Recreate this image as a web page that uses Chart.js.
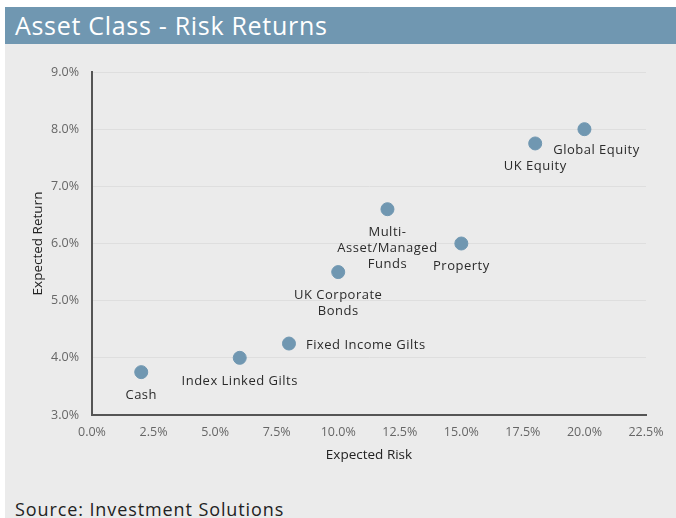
<!DOCTYPE html>
<html>
<head>
<meta charset="utf-8">
<script src="https://cdn.jsdelivr.net/npm/chart.js@4/dist/chart.umd.min.js"></script>
<style>
  html, body { margin: 0; padding: 0; background: #fff; }
  #wrap { position: relative; width: 676px; height: 518px; overflow: hidden; }
  #panel { position: absolute; left: 5px; top: 7px; width: 671px; height: 511px; background: #ebebeb; }
  #title {
    position: absolute; left: 5px; top: 7px; width: 671px; height: 37px;
    background: #7097b1; color: #fff;
    font: 25px "Open Sans", sans-serif; line-height: 37px; text-indent: 10px;
    letter-spacing: 0.7px;
  }
  #source {
    position: absolute; left: 15px; top: 499px;
    font: 18px "Open Sans", sans-serif; line-height: 20px; color: #222;
    letter-spacing: 0.9px;
  }
  #box { position: absolute; left: 0; top: 44px; width: 676px; height: 431px; }
</style>
</head>
<body>
<div id="wrap">
  <div id="panel"></div>
  <div id="title">Asset Class - Risk Returns</div>
  <div id="box"><canvas id="riskChart" width="676" height="431"></canvas></div>
  <div id="source">Source: Investment Solutions</div>
</div>
<script>
// データ（%）
const assetNames = [
  'Cash',
  'Index Linked Gilts',
  'Fixed Income Gilts',
  ['UK Corporate', 'Bonds'],
  ['Multi-', 'Asset/Managed', 'Funds'],
  'Property',
  'UK Equity',
  'Global Equity'
];
const expectedRisk = [2.0, 6.0, 8.0, 10.0, 12.0, 15.0, 18.0, 20.0];
const expectedReturn = [3.75, 4.0, 4.25, 5.5, 6.6, 6.0, 7.75, 8.0];
const xTicks = [0, 2.5, 5, 7.5, 10, 12.5, 15, 17.5, 20, 22.5];
const yTicks = [3, 4, 5, 6, 7, 8, 9];

// ラベルの置き方
const labelPlace = ['below', 'below', 'right', 'below', 'below', 'below', 'below', 'belowRight'];

const points = expectedRisk.map((x, i) => ({ x: x, y: expectedReturn[i] }));

// 点の横に名前を描くプラグイン
const pointLabels = {
  id: 'pointLabels',
  afterDatasetsDraw(chart) {
    const ctx = chart.ctx;
    const meta = chart.getDatasetMeta(0);
    ctx.save();
    ctx.font = '13px "Open Sans", sans-serif';
    ctx.letterSpacing = '0.5px';
    ctx.fillStyle = '#2b2b2b';
    ctx.textBaseline = 'middle';
    meta.data.forEach((pt, i) => {
      const lines = [].concat(assetNames[i]);
      const place = labelPlace[i];
      lines.forEach((line, j) => {
        if (place === 'right') {
          ctx.textAlign = 'left';
          ctx.fillText(line, pt.x + 17, pt.y + 1.5 + j * 16);
        } else if (place === 'belowRight') {
          ctx.textAlign = 'center';
          ctx.fillText(line, pt.x + 12, pt.y + 21 + j * 16);
        } else {
          ctx.textAlign = 'center';
          ctx.fillText(line, pt.x, pt.y + 23 + j * 16);
        }
      });
    });
    ctx.restore();
  }
};

const ctx = document.getElementById('riskChart').getContext('2d');
const riskChart = new Chart(ctx, {
  type: 'scatter',
  data: {
    datasets: [{
      data: points,
      backgroundColor: '#7097b1',
      borderColor: '#7097b1',
      pointRadius: 6.5,
      pointHoverRadius: 6.5
    }]
  },
  options: {
    responsive: false,
    animation: false,
    events: [],
    layout: { padding: { left: 0, right: 30, top: 28, bottom: 0 } },
    plugins: {
      legend: { display: false },
      tooltip: { enabled: false }
    },
    scales: {
      x: {
        type: 'linear',
        min: 0,
        max: 22.5,
        afterBuildTicks: s => { s.ticks = xTicks.map(v => ({ value: v })); },
        afterFit: s => { s.height = 60; },
        ticks: {
          padding: 10,
          color: '#666',
          font: { family: 'Open Sans', size: 12.5 },
          callback: v => v.toFixed(1) + '%'
        },
        grid: { display: false, drawTicks: false },
        border: { display: true, color: '#555', width: 2 },
        title: {
          display: true,
          text: 'Expected Risk',
          color: '#222',
          font: { family: 'Open Sans', size: 13.5 },
          padding: { top: 0, bottom: 12 }
        }
      },
      y: {
        type: 'linear',
        min: 3,
        max: 9,
        afterBuildTicks: s => { s.ticks = yTicks.map(v => ({ value: v })); },
        afterFit: s => { s.width = 92; },
        ticks: {
          padding: 13,
          color: '#666',
          font: { family: 'Open Sans', size: 12.5 },
          callback: v => v.toFixed(1) + '%'
        },
        grid: { color: '#dedede', lineWidth: 1, drawTicks: false },
        border: { display: true, color: '#555', width: 2 },
        title: {
          display: true,
          text: 'Expected Return',
          color: '#222',
          font: { family: 'Open Sans', size: 13.5 },
          padding: { top: 30, bottom: 0 }
        }
      }
    }
  },
  plugins: [pointLabels]
});
</script>
</body>
</html>
